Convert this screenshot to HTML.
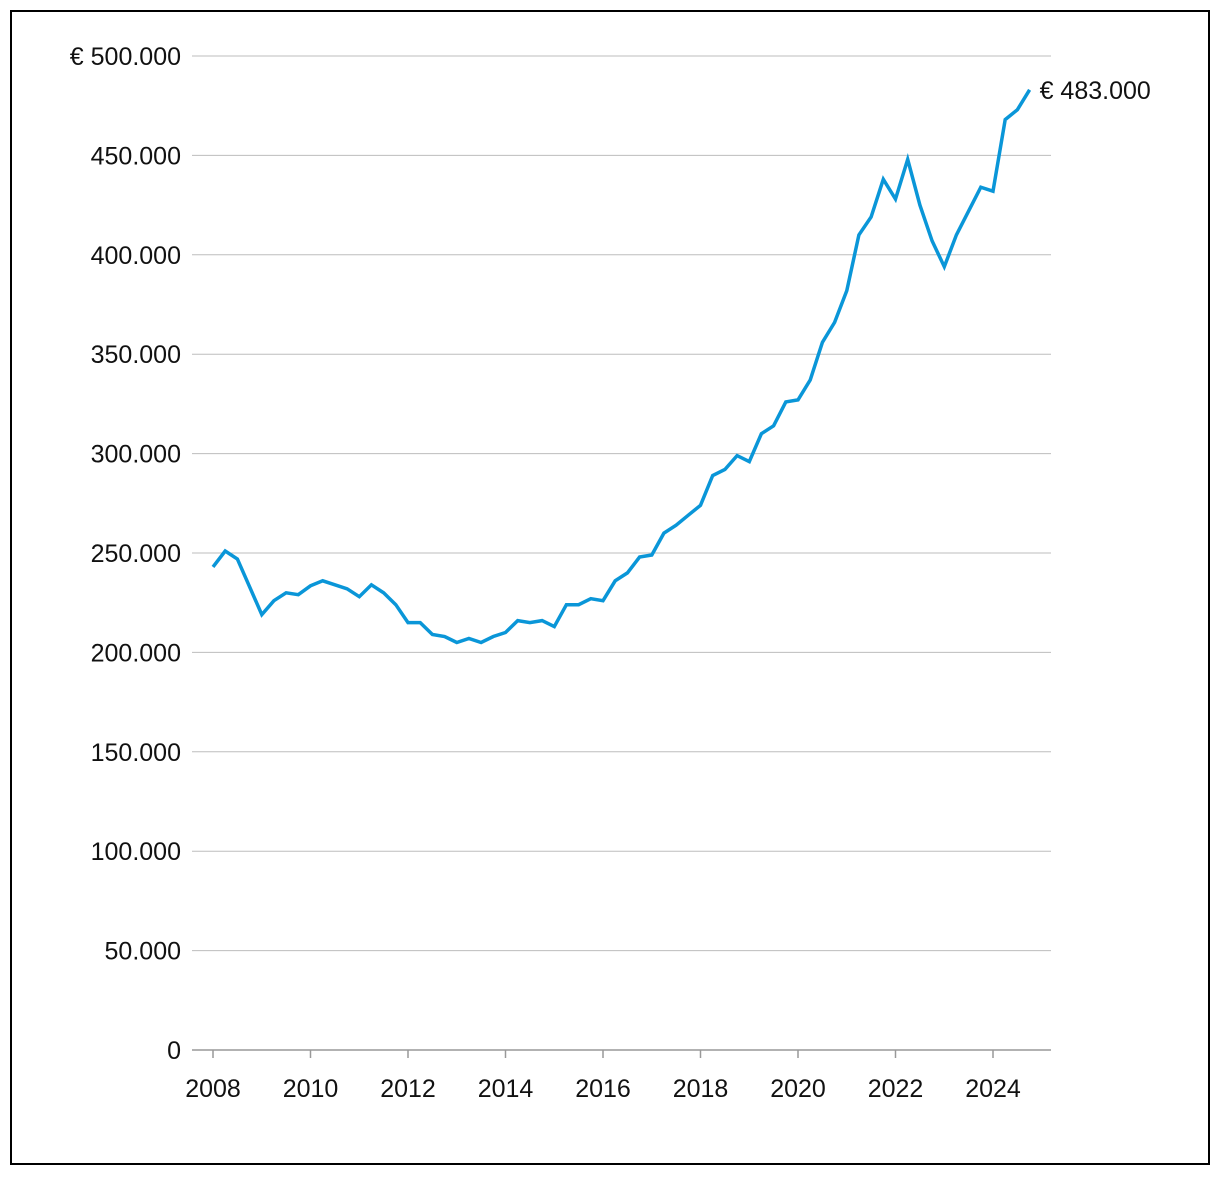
<!DOCTYPE html>
<html><head><meta charset="utf-8"><style>
body{margin:0;background:#fff;}
svg{display:block;font-family:"Liberation Sans",sans-serif;}
</style></head><body>
<svg id="chart" width="1220" height="1178">
<rect x="11" y="11" width="1198" height="1153" fill="#fff" stroke="#000" stroke-width="2"/>
<g id="grid"></g><g id="axes"></g><g id="series"></g>
</svg>
<script>
const yTicks=[0,50000,100000,150000,200000,250000,300000,350000,400000,450000,500000];
const yTickLabels=["0","50.000","100.000","150.000","200.000","250.000","300.000","350.000","400.000","450.000","€ 500.000"];
const xTicks=[2008,2010,2012,2014,2016,2018,2020,2022,2024];
const prices=[243,251,247,233,219,226,230,229,233.5,236,234,232,228,234,230,224,215,215,209,208,205,207,205,208,210,216,215,216,213,224,224,227,226,236,240,248,249,260,264,269,274,289,292,299,296,310,314,326,327,337,356,366,382,410,419,438,428,448,425,407,394,410,422,434,432,468,473,483].map(v=>v*1000);
const startYear=2008;
const lastLabel="€ 483.000";
const NS="http://www.w3.org/2000/svg";
const x0=192,x1=1051,y0=1050,y1=56;
const X=t=>213+(t-2008)*48.75;
const Y=v=>y0-(v/500000)*(y0-y1);
function mk(tag,attrs,parent){const e=document.createElementNS(NS,tag);for(const k in attrs)e.setAttribute(k,attrs[k]);document.getElementById(parent).appendChild(e);return e;}
yTicks.forEach((v,i)=>{
 if(v>0){const l=mk('line',{x1:x0,x2:x1,y1:Y(v),y2:Y(v),stroke:'#bdbdbd','stroke-width':1},'grid');
 
 }
 const t=mk('text',{x:181,y:Y(v)+9,'text-anchor':'end','font-size':25,fill:'#111'},'axes');t.textContent=yTickLabels[i];
 
 
});
const ax=mk('line',{x1:x0,x2:x1,y1:y0,y2:y0,stroke:'#999','stroke-width':1.5},'axes');


xTicks.forEach(yr=>{
 const tk=mk('line',{x1:X(yr),x2:X(yr),y1:y0,y2:y0+8,stroke:'#999','stroke-width':1.5},'axes');
 
 
 const t=mk('text',{x:X(yr),y:1097,'text-anchor':'middle','font-size':25,fill:'#111'},'axes');t.textContent=yr;
 
 
});
const pts=prices.map((v,i)=>X(startYear+i/4).toFixed(1)+','+Y(v).toFixed(1)).join(' ');
const pl=mk('polyline',{points:pts,fill:'none',stroke:'#0a96d8','stroke-width':3.5,'stroke-linejoin':'miter'},'series');


const n=prices.length-1;
const lab=mk('text',{x:X(startYear+n/4)+10,y:Y(prices[n])+9,'font-size':25,fill:'#111'},'series');lab.textContent=lastLabel;


</script>
</body></html>
